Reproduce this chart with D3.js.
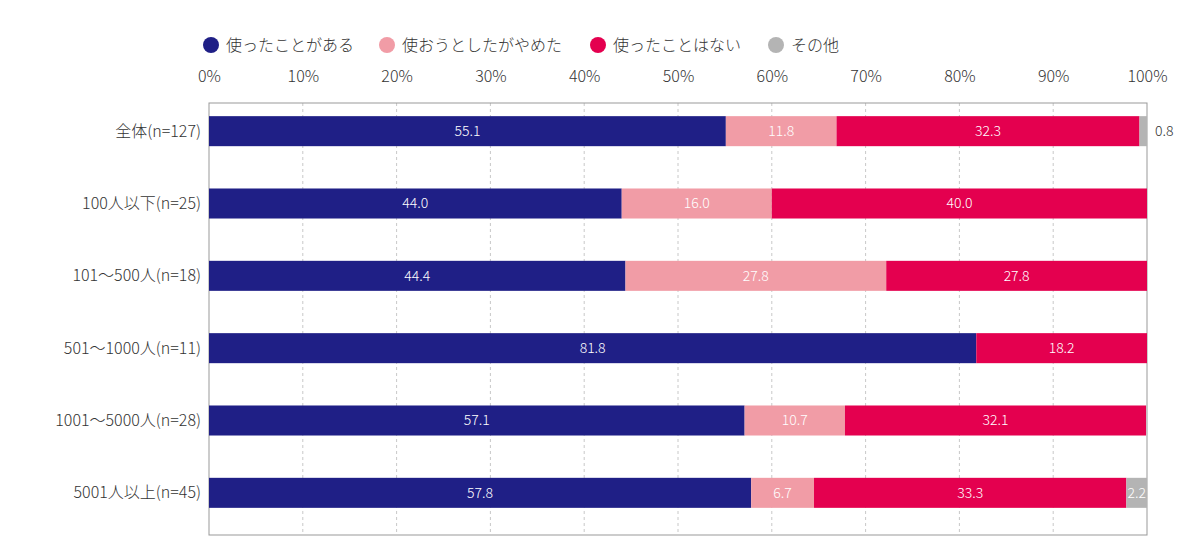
<!DOCTYPE html>
<html><head><meta charset="utf-8">
<script src="https://cdn.jsdelivr.net/npm/d3@7"></script>
<style>body{margin:0;background:#fff;font-family:"Noto Sans CJK JP",sans-serif;}</style>
</head><body><div id="view"></div>
<script>
var width = 1200, height = 555;
var categories = ["全体(n=127)","100人以下(n=25)","101～500人(n=18)","501～1000人(n=11)","1001～5000人(n=28)","5001人以上(n=45)"];
var seriesNames = ["使ったことがある","使おうとしたがやめた","使ったことはない","その他"];
var colors = ["#1f1f86","#f19ca6","#e4004f","#b4b4b4"];
var used = [55.1,44.0,44.4,81.8,57.1,57.8];
var quit = [11.8,16.0,27.8,0,10.7,6.7];
var never = [32.3,40.0,27.8,18.2,32.1,33.3];
var other = [0.8,0,0,0,0,2.2];
var ticks = [0,10,20,30,40,50,60,70,80,90,100];

var svg = d3.select("#view").append("svg").attr("width", width).attr("height", height);
var x = d3.scaleLinear().domain([0,100]).range([209,1147]);
var y = d3.scaleBand().domain(categories).range([95,529]).paddingInner(0.585).paddingOuter(0.2925);
var plotTop = 103, plotBottom = 535;

// グリッド
svg.selectAll(".grid").data(ticks.slice(1,-1)).enter().append("line")
  .attr("x1", d => x(d)).attr("x2", d => x(d)).attr("y1", plotTop).attr("y2", plotBottom)
  .style("stroke", "#c8c8c8").style("stroke-dasharray", "3,3");
svg.append("rect").attr("x", x(0)).attr("y", plotTop).attr("width", x(100)-x(0)).attr("height", plotBottom-plotTop)
  .style("fill", "none").style("stroke", "#999");

// 上の目盛り
svg.append("g").attr("transform", "translate(0,85)")
  .call(d3.axisTop(x).tickValues(ticks).tickFormat(d => d + "%").tickSize(0))
  .call(g => g.select(".domain").remove())
  .selectAll("text").style("font-size", "16px").style("fill", "#333").style("font-family", "'Noto Sans CJK JP'").style("font-weight", 300);

// 項目名
svg.selectAll(".cat").data(categories).enter().append("text")
  .attr("x", 201).attr("y", d => y(d) + y.bandwidth()/2).attr("dy", "0.35em")
  .attr("text-anchor", "end").style("font-size", "16px").style("fill", "#333").style("font-weight", 300)
  .text(d => d);

var rows = categories.map((c, i) => [used[i], quit[i], never[i], other[i]]);
var stack = d3.stack().keys([0,1,2,3])(rows);

stack.forEach(function(s, k) {
  var segs = s.map((d, i) => ({a: d[0], b: d[1], c: categories[i]}));
  var g = svg.append("g");
  g.selectAll("rect").data(segs).enter().append("rect")
    .attr("x", d => x(d.a)).attr("width", d => x(d.b) - x(d.a))
    .attr("y", d => y(d.c)).attr("height", y.bandwidth())
    .style("fill", colors[k]);
  g.selectAll("text").data(segs.filter(d => d.b - d.a > 0)).enter().append("text")
    .attr("x", d => (d.b-d.a < 1) ? x(100) + 8 : (k == 3 ? x(100) - 1 : x((d.a+d.b)/2)))
    .attr("y", d => y(d.c) + y.bandwidth()/2).attr("dy", "0.35em")
    .attr("text-anchor", d => (d.b-d.a < 1) ? "start" : (k == 3 ? "end" : "middle"))
    .style("font-size", "14px").style("font-weight", 300)
    .style("fill", d => (d.b-d.a < 1) ? "#333" : "#fff")
    .text(d => (d.b-d.a).toFixed(1));
});

// 凡例
var lx = [211, 387, 598, 776];
var lg = svg.selectAll(".leg").data(seriesNames).enter().append("g")
  .attr("transform", (d, i) => "translate(" + lx[i] + ",45)");
lg.append("circle").attr("r", 8).style("fill", (d, i) => colors[i]);
lg.append("text").attr("x", 15).attr("dy", "0.35em").style("font-size", "16px").style("fill", "#333").style("font-weight", 300).text(d => d);
</script></body></html>
